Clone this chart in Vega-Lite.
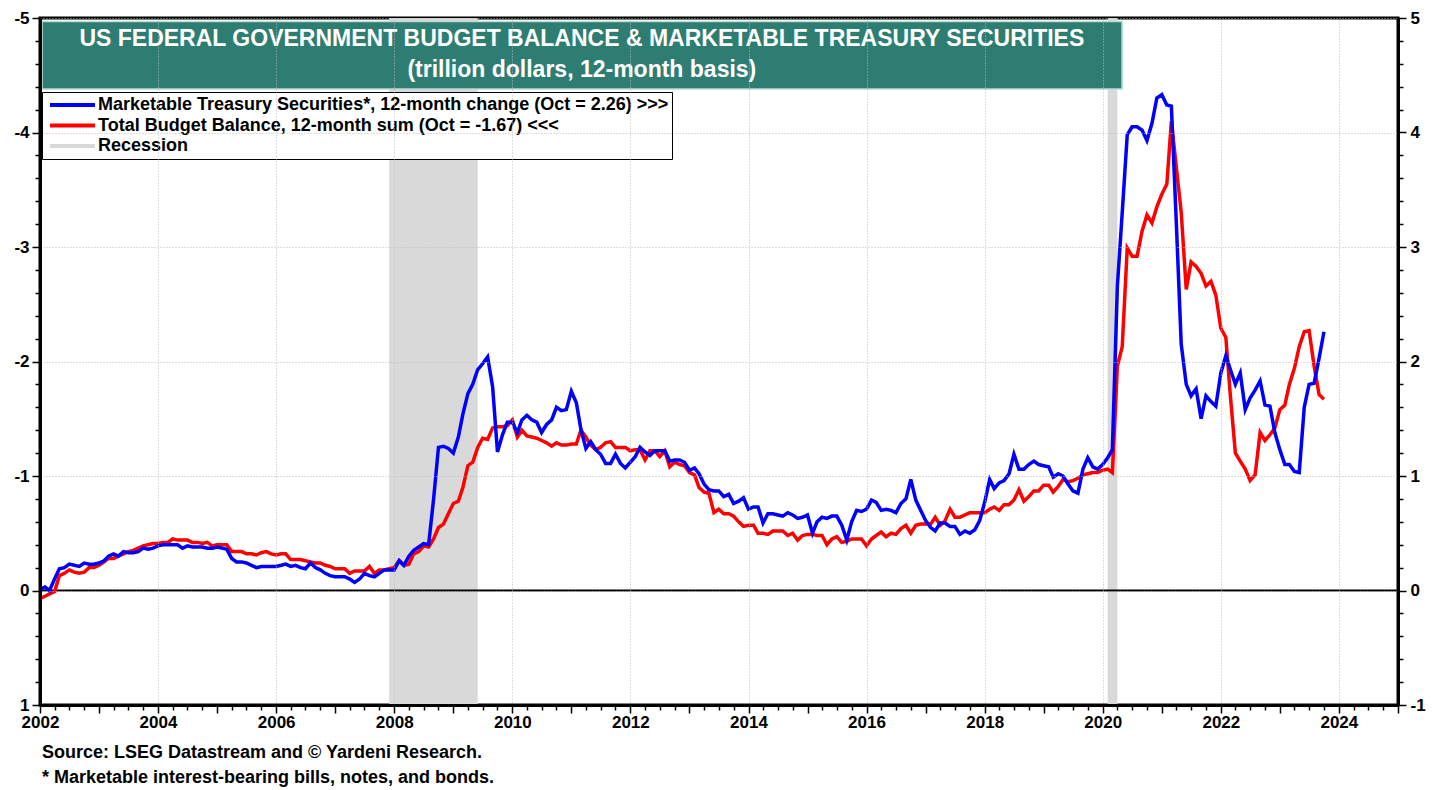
{
  "$schema": "https://vega.github.io/schema/vega-lite/v6.json",
  "width": 1358,
  "height": 687,
  "autosize": {"type": "none"},
  "padding": {"left": 40, "top": 18, "right": 50, "bottom": 85},
  "background": "white",
  "config": {
    "view": {"stroke": "black", "strokeWidth": 3},
    "font": "Liberation Sans"
  },
  "title": {
    "text": ["Source: LSEG Datastream and © Yardeni Research.", "* Marketable interest-bearing bills, notes, and bonds."],
    "orient": "bottom",
    "anchor": "start",
    "frame": "group",
    "font": "Liberation Sans",
    "fontSize": 18,
    "fontWeight": "bold",
    "color": "black",
    "lineHeight": 25,
    "offset": 14,
    "dx": 2
  },
  "datasets": {
    "series": [
      {"date":"2002-01-01","treasury":0.01,"budget":0.07},
      {"date":"2002-02-01","treasury":0.03,"budget":0.05},
      {"date":"2002-03-01","treasury":0.00,"budget":0.03},
      {"date":"2002-04-01","treasury":0.10,"budget":0.01},
      {"date":"2002-05-01","treasury":0.19,"budget":-0.13},
      {"date":"2002-06-01","treasury":0.20,"budget":-0.15},
      {"date":"2002-07-01","treasury":0.23,"budget":-0.18},
      {"date":"2002-08-01","treasury":0.22,"budget":-0.16},
      {"date":"2002-09-01","treasury":0.21,"budget":-0.15},
      {"date":"2002-10-01","treasury":0.24,"budget":-0.16},
      {"date":"2002-11-01","treasury":0.23,"budget":-0.20},
      {"date":"2002-12-01","treasury":0.23,"budget":-0.20},
      {"date":"2003-01-01","treasury":0.24,"budget":-0.22},
      {"date":"2003-02-01","treasury":0.26,"budget":-0.25},
      {"date":"2003-03-01","treasury":0.30,"budget":-0.28},
      {"date":"2003-04-01","treasury":0.32,"budget":-0.28},
      {"date":"2003-05-01","treasury":0.30,"budget":-0.30},
      {"date":"2003-06-01","treasury":0.34,"budget":-0.32},
      {"date":"2003-07-01","treasury":0.33,"budget":-0.34},
      {"date":"2003-08-01","treasury":0.33,"budget":-0.35},
      {"date":"2003-09-01","treasury":0.34,"budget":-0.37},
      {"date":"2003-10-01","treasury":0.37,"budget":-0.39},
      {"date":"2003-11-01","treasury":0.36,"budget":-0.40},
      {"date":"2003-12-01","treasury":0.37,"budget":-0.41},
      {"date":"2004-01-01","treasury":0.39,"budget":-0.41},
      {"date":"2004-02-01","treasury":0.40,"budget":-0.42},
      {"date":"2004-03-01","treasury":0.40,"budget":-0.42},
      {"date":"2004-04-01","treasury":0.40,"budget":-0.45},
      {"date":"2004-05-01","treasury":0.40,"budget":-0.44},
      {"date":"2004-06-01","treasury":0.37,"budget":-0.44},
      {"date":"2004-07-01","treasury":0.39,"budget":-0.44},
      {"date":"2004-08-01","treasury":0.38,"budget":-0.42},
      {"date":"2004-09-01","treasury":0.38,"budget":-0.42},
      {"date":"2004-10-01","treasury":0.38,"budget":-0.41},
      {"date":"2004-11-01","treasury":0.37,"budget":-0.42},
      {"date":"2004-12-01","treasury":0.37,"budget":-0.39},
      {"date":"2005-01-01","treasury":0.38,"budget":-0.40},
      {"date":"2005-02-01","treasury":0.37,"budget":-0.40},
      {"date":"2005-03-01","treasury":0.36,"budget":-0.40},
      {"date":"2005-04-01","treasury":0.28,"budget":-0.34},
      {"date":"2005-05-01","treasury":0.25,"budget":-0.34},
      {"date":"2005-06-01","treasury":0.25,"budget":-0.34},
      {"date":"2005-07-01","treasury":0.24,"budget":-0.32},
      {"date":"2005-08-01","treasury":0.22,"budget":-0.32},
      {"date":"2005-09-01","treasury":0.20,"budget":-0.31},
      {"date":"2005-10-01","treasury":0.21,"budget":-0.33},
      {"date":"2005-11-01","treasury":0.21,"budget":-0.34},
      {"date":"2005-12-01","treasury":0.21,"budget":-0.32},
      {"date":"2006-01-01","treasury":0.21,"budget":-0.31},
      {"date":"2006-02-01","treasury":0.22,"budget":-0.32},
      {"date":"2006-03-01","treasury":0.23,"budget":-0.32},
      {"date":"2006-04-01","treasury":0.21,"budget":-0.27},
      {"date":"2006-05-01","treasury":0.22,"budget":-0.27},
      {"date":"2006-06-01","treasury":0.20,"budget":-0.27},
      {"date":"2006-07-01","treasury":0.19,"budget":-0.26},
      {"date":"2006-08-01","treasury":0.24,"budget":-0.25},
      {"date":"2006-09-01","treasury":0.20,"budget":-0.24},
      {"date":"2006-10-01","treasury":0.18,"budget":-0.24},
      {"date":"2006-11-01","treasury":0.15,"budget":-0.22},
      {"date":"2006-12-01","treasury":0.13,"budget":-0.21},
      {"date":"2007-01-01","treasury":0.12,"budget":-0.19},
      {"date":"2007-02-01","treasury":0.12,"budget":-0.19},
      {"date":"2007-03-01","treasury":0.12,"budget":-0.19},
      {"date":"2007-04-01","treasury":0.10,"budget":-0.15},
      {"date":"2007-05-01","treasury":0.07,"budget":-0.17},
      {"date":"2007-06-01","treasury":0.10,"budget":-0.17},
      {"date":"2007-07-01","treasury":0.15,"budget":-0.17},
      {"date":"2007-08-01","treasury":0.13,"budget":-0.21},
      {"date":"2007-09-01","treasury":0.12,"budget":-0.15},
      {"date":"2007-10-01","treasury":0.15,"budget":-0.18},
      {"date":"2007-11-01","treasury":0.18,"budget":-0.18},
      {"date":"2007-12-01","treasury":0.18,"budget":-0.19},
      {"date":"2008-01-01","treasury":0.18,"budget":-0.20},
      {"date":"2008-02-01","treasury":0.26,"budget":-0.26},
      {"date":"2008-03-01","treasury":0.22,"budget":-0.22},
      {"date":"2008-04-01","treasury":0.30,"budget":-0.23},
      {"date":"2008-05-01","treasury":0.35,"budget":-0.32},
      {"date":"2008-06-01","treasury":0.38,"budget":-0.34},
      {"date":"2008-07-01","treasury":0.41,"budget":-0.39},
      {"date":"2008-08-01","treasury":0.40,"budget":-0.38},
      {"date":"2008-09-01","treasury":0.80,"budget":-0.45},
      {"date":"2008-10-01","treasury":1.25,"budget":-0.55},
      {"date":"2008-11-01","treasury":1.26,"budget":-0.58},
      {"date":"2008-12-01","treasury":1.24,"budget":-0.67},
      {"date":"2009-01-01","treasury":1.20,"budget":-0.76},
      {"date":"2009-02-01","treasury":1.34,"budget":-0.78},
      {"date":"2009-03-01","treasury":1.54,"budget":-0.90},
      {"date":"2009-04-01","treasury":1.72,"budget":-1.09},
      {"date":"2009-05-01","treasury":1.80,"budget":-1.12},
      {"date":"2009-06-01","treasury":1.93,"budget":-1.25},
      {"date":"2009-07-01","treasury":1.98,"budget":-1.33},
      {"date":"2009-08-01","treasury":2.04,"budget":-1.32},
      {"date":"2009-09-01","treasury":1.78,"budget":-1.42},
      {"date":"2009-10-01","treasury":1.21,"budget":-1.43},
      {"date":"2009-11-01","treasury":1.36,"budget":-1.43},
      {"date":"2009-12-01","treasury":1.47,"budget":-1.44},
      {"date":"2010-01-01","treasury":1.47,"budget":-1.49},
      {"date":"2010-02-01","treasury":1.38,"budget":-1.34},
      {"date":"2010-03-01","treasury":1.49,"budget":-1.40},
      {"date":"2010-04-01","treasury":1.53,"budget":-1.35},
      {"date":"2010-05-01","treasury":1.49,"budget":-1.34},
      {"date":"2010-06-01","treasury":1.47,"budget":-1.33},
      {"date":"2010-07-01","treasury":1.38,"budget":-1.31},
      {"date":"2010-08-01","treasury":1.45,"budget":-1.29},
      {"date":"2010-09-01","treasury":1.49,"budget":-1.26},
      {"date":"2010-10-01","treasury":1.60,"budget":-1.29},
      {"date":"2010-11-01","treasury":1.57,"budget":-1.27},
      {"date":"2010-12-01","treasury":1.58,"budget":-1.27},
      {"date":"2011-01-01","treasury":1.74,"budget":-1.28},
      {"date":"2011-02-01","treasury":1.64,"budget":-1.28},
      {"date":"2011-03-01","treasury":1.41,"budget":-1.40},
      {"date":"2011-04-01","treasury":1.24,"budget":-1.34},
      {"date":"2011-05-01","treasury":1.30,"budget":-1.27},
      {"date":"2011-06-01","treasury":1.23,"budget":-1.23},
      {"date":"2011-07-01","treasury":1.19,"budget":-1.25},
      {"date":"2011-08-01","treasury":1.11,"budget":-1.29},
      {"date":"2011-09-01","treasury":1.11,"budget":-1.30},
      {"date":"2011-10-01","treasury":1.19,"budget":-1.25},
      {"date":"2011-11-01","treasury":1.11,"budget":-1.25},
      {"date":"2011-12-01","treasury":1.07,"budget":-1.25},
      {"date":"2012-01-01","treasury":1.12,"budget":-1.22},
      {"date":"2012-02-01","treasury":1.17,"budget":-1.23},
      {"date":"2012-03-01","treasury":1.25,"budget":-1.23},
      {"date":"2012-04-01","treasury":1.21,"budget":-1.14},
      {"date":"2012-05-01","treasury":1.18,"budget":-1.22},
      {"date":"2012-06-01","treasury":1.22,"budget":-1.22},
      {"date":"2012-07-01","treasury":1.22,"budget":-1.17},
      {"date":"2012-08-01","treasury":1.22,"budget":-1.22},
      {"date":"2012-09-01","treasury":1.13,"budget":-1.08},
      {"date":"2012-10-01","treasury":1.14,"budget":-1.12},
      {"date":"2012-11-01","treasury":1.14,"budget":-1.10},
      {"date":"2012-12-01","treasury":1.12,"budget":-1.09},
      {"date":"2013-01-01","treasury":1.05,"budget":-1.03},
      {"date":"2013-02-01","treasury":1.07,"budget":-1.01},
      {"date":"2013-03-01","treasury":1.02,"budget":-0.90},
      {"date":"2013-04-01","treasury":0.93,"budget":-0.86},
      {"date":"2013-05-01","treasury":0.88,"budget":-0.85},
      {"date":"2013-06-01","treasury":0.87,"budget":-0.68},
      {"date":"2013-07-01","treasury":0.87,"budget":-0.71},
      {"date":"2013-08-01","treasury":0.82,"budget":-0.67},
      {"date":"2013-09-01","treasury":0.84,"budget":-0.67},
      {"date":"2013-10-01","treasury":0.76,"budget":-0.65},
      {"date":"2013-11-01","treasury":0.78,"budget":-0.60},
      {"date":"2013-12-01","treasury":0.81,"budget":-0.56},
      {"date":"2014-01-01","treasury":0.71,"budget":-0.57},
      {"date":"2014-02-01","treasury":0.73,"budget":-0.57},
      {"date":"2014-03-01","treasury":0.73,"budget":-0.50},
      {"date":"2014-04-01","treasury":0.59,"budget":-0.50},
      {"date":"2014-05-01","treasury":0.67,"budget":-0.49},
      {"date":"2014-06-01","treasury":0.67,"budget":-0.52},
      {"date":"2014-07-01","treasury":0.66,"budget":-0.52},
      {"date":"2014-08-01","treasury":0.65,"budget":-0.52},
      {"date":"2014-09-01","treasury":0.68,"budget":-0.48},
      {"date":"2014-10-01","treasury":0.66,"budget":-0.50},
      {"date":"2014-11-01","treasury":0.63,"budget":-0.44},
      {"date":"2014-12-01","treasury":0.64,"budget":-0.48},
      {"date":"2015-01-01","treasury":0.66,"budget":-0.49},
      {"date":"2015-02-01","treasury":0.50,"budget":-0.49},
      {"date":"2015-03-01","treasury":0.60,"budget":-0.48},
      {"date":"2015-04-01","treasury":0.64,"budget":-0.48},
      {"date":"2015-05-01","treasury":0.63,"budget":-0.40},
      {"date":"2015-06-01","treasury":0.65,"budget":-0.45},
      {"date":"2015-07-01","treasury":0.65,"budget":-0.47},
      {"date":"2015-08-01","treasury":0.57,"budget":-0.42},
      {"date":"2015-09-01","treasury":0.44,"budget":-0.43},
      {"date":"2015-10-01","treasury":0.60,"budget":-0.45},
      {"date":"2015-11-01","treasury":0.70,"budget":-0.45},
      {"date":"2015-12-01","treasury":0.69,"budget":-0.45},
      {"date":"2016-01-01","treasury":0.71,"budget":-0.39},
      {"date":"2016-02-01","treasury":0.79,"budget":-0.45},
      {"date":"2016-03-01","treasury":0.77,"budget":-0.48},
      {"date":"2016-04-01","treasury":0.70,"budget":-0.51},
      {"date":"2016-05-01","treasury":0.71,"budget":-0.47},
      {"date":"2016-06-01","treasury":0.70,"budget":-0.50},
      {"date":"2016-07-01","treasury":0.68,"budget":-0.49},
      {"date":"2016-08-01","treasury":0.76,"budget":-0.54},
      {"date":"2016-09-01","treasury":0.80,"budget":-0.57},
      {"date":"2016-10-01","treasury":0.97,"budget":-0.50},
      {"date":"2016-11-01","treasury":0.79,"budget":-0.57},
      {"date":"2016-12-01","treasury":0.70,"budget":-0.58},
      {"date":"2017-01-01","treasury":0.61,"budget":-0.58},
      {"date":"2017-02-01","treasury":0.55,"budget":-0.58},
      {"date":"2017-03-01","treasury":0.52,"budget":-0.64},
      {"date":"2017-04-01","treasury":0.59,"budget":-0.57},
      {"date":"2017-05-01","treasury":0.59,"budget":-0.61},
      {"date":"2017-06-01","treasury":0.56,"budget":-0.71},
      {"date":"2017-07-01","treasury":0.56,"budget":-0.64},
      {"date":"2017-08-01","treasury":0.49,"budget":-0.64},
      {"date":"2017-09-01","treasury":0.52,"budget":-0.66},
      {"date":"2017-10-01","treasury":0.50,"budget":-0.68},
      {"date":"2017-11-01","treasury":0.53,"budget":-0.68},
      {"date":"2017-12-01","treasury":0.61,"budget":-0.68},
      {"date":"2018-01-01","treasury":0.77,"budget":-0.68},
      {"date":"2018-02-01","treasury":0.97,"budget":-0.71},
      {"date":"2018-03-01","treasury":0.89,"budget":-0.73},
      {"date":"2018-04-01","treasury":0.94,"budget":-0.70},
      {"date":"2018-05-01","treasury":0.96,"budget":-0.75},
      {"date":"2018-06-01","treasury":1.02,"budget":-0.75},
      {"date":"2018-07-01","treasury":1.19,"budget":-0.79},
      {"date":"2018-08-01","treasury":1.06,"budget":-0.88},
      {"date":"2018-09-01","treasury":1.06,"budget":-0.78},
      {"date":"2018-10-01","treasury":1.10,"budget":-0.82},
      {"date":"2018-11-01","treasury":1.13,"budget":-0.87},
      {"date":"2018-12-01","treasury":1.10,"budget":-0.87},
      {"date":"2019-01-01","treasury":1.09,"budget":-0.92},
      {"date":"2019-02-01","treasury":1.08,"budget":-0.92},
      {"date":"2019-03-01","treasury":0.99,"budget":-0.86},
      {"date":"2019-04-01","treasury":1.02,"budget":-0.91},
      {"date":"2019-05-01","treasury":1.00,"budget":-0.97},
      {"date":"2019-06-01","treasury":0.93,"budget":-0.95},
      {"date":"2019-07-01","treasury":0.87,"budget":-0.96},
      {"date":"2019-08-01","treasury":0.85,"budget":-0.98},
      {"date":"2019-09-01","treasury":1.06,"budget":-1.01},
      {"date":"2019-10-01","treasury":1.16,"budget":-1.02},
      {"date":"2019-11-01","treasury":1.08,"budget":-1.03},
      {"date":"2019-12-01","treasury":1.06,"budget":-1.03},
      {"date":"2020-01-01","treasury":1.10,"budget":-1.05},
      {"date":"2020-02-01","treasury":1.16,"budget":-1.06},
      {"date":"2020-03-01","treasury":1.23,"budget":-1.03},
      {"date":"2020-04-01","treasury":2.66,"budget":-1.96},
      {"date":"2020-05-01","treasury":3.30,"budget":-2.13},
      {"date":"2020-06-01","treasury":3.98,"budget":-2.99},
      {"date":"2020-07-01","treasury":4.05,"budget":-2.92},
      {"date":"2020-08-01","treasury":4.05,"budget":-2.92},
      {"date":"2020-09-01","treasury":4.02,"budget":-3.14},
      {"date":"2020-10-01","treasury":3.93,"budget":-3.28},
      {"date":"2020-11-01","treasury":4.08,"budget":-3.21},
      {"date":"2020-12-01","treasury":4.30,"budget":-3.35},
      {"date":"2021-01-01","treasury":4.33,"budget":-3.46},
      {"date":"2021-02-01","treasury":4.24,"budget":-3.55},
      {"date":"2021-03-01","treasury":4.23,"budget":-4.10},
      {"date":"2021-04-01","treasury":3.20,"budget":-3.69},
      {"date":"2021-05-01","treasury":2.15,"budget":-3.30},
      {"date":"2021-06-01","treasury":1.80,"budget":-2.63},
      {"date":"2021-07-01","treasury":1.70,"budget":-2.87},
      {"date":"2021-08-01","treasury":1.76,"budget":-2.83},
      {"date":"2021-09-01","treasury":1.50,"budget":-2.77},
      {"date":"2021-10-01","treasury":1.70,"budget":-2.66},
      {"date":"2021-11-01","treasury":1.65,"budget":-2.70},
      {"date":"2021-12-01","treasury":1.61,"budget":-2.58},
      {"date":"2022-01-01","treasury":1.90,"budget":-2.29},
      {"date":"2022-02-01","treasury":2.05,"budget":-2.21},
      {"date":"2022-03-01","treasury":1.93,"budget":-1.70},
      {"date":"2022-04-01","treasury":1.80,"budget":-1.20},
      {"date":"2022-05-01","treasury":1.90,"budget":-1.13},
      {"date":"2022-06-01","treasury":1.58,"budget":-1.06},
      {"date":"2022-07-01","treasury":1.68,"budget":-0.96},
      {"date":"2022-08-01","treasury":1.75,"budget":-1.01},
      {"date":"2022-09-01","treasury":1.83,"budget":-1.38},
      {"date":"2022-10-01","treasury":1.62,"budget":-1.31},
      {"date":"2022-11-01","treasury":1.61,"budget":-1.36},
      {"date":"2022-12-01","treasury":1.38,"budget":-1.42},
      {"date":"2023-01-01","treasury":1.23,"budget":-1.58},
      {"date":"2023-02-01","treasury":1.10,"budget":-1.62},
      {"date":"2023-03-01","treasury":1.10,"budget":-1.80},
      {"date":"2023-04-01","treasury":1.04,"budget":-1.94},
      {"date":"2023-05-01","treasury":1.03,"budget":-2.13},
      {"date":"2023-06-01","treasury":1.60,"budget":-2.26},
      {"date":"2023-07-01","treasury":1.80,"budget":-2.27},
      {"date":"2023-08-01","treasury":1.81,"budget":-1.96},
      {"date":"2023-09-01","treasury":2.03,"budget":-1.71},
      {"date":"2023-10-01","treasury":2.26,"budget":-1.67}
    ],
    "recessions": [
      {"start":"2007-12-01","end":"2009-06-01"},
      {"start":"2020-02-01","end":"2020-04-01"}
    ]
  },
  "layer": [
    {
      "layer": [
        {
          "data": {"name": "recessions"},
          "mark": {"type": "rect", "opacity": 1},
          "encoding": {
            "x": {"field": "start", "type": "temporal"},
            "x2": {"field": "end"},
            "color": {
              "datum": "Recession",
              "scale": {
                "domain": ["Marketable Treasury Securities*, 12-month change (Oct = 2.26) >>>", "Total Budget Balance, 12-month sum (Oct = -1.67) <<<", "Recession"],
                "range": ["#0000ff", "#ff0000", "#d9d9d9"]
              },
              "legend": {
                "title": null,
                "orient": "none",
                "legendX": 2,
                "legendY": 74,
                "symbolType": "stroke",
                "symbolSize": 2025,
                "symbolStrokeWidth": 4,
                "clipHeight": 20,
                "rowPadding": 0.5,
                "padding": 3,
                "symbolOffset": 3,
                "labelOffset": 1,
                "labelFont": "Liberation Sans",
                "labelFontSize": 18,
                "labelFontWeight": "bold",
                "labelColor": "black",
                "labelLimit": 1000,
                "fillColor": "white",
                "strokeColor": "black",
                "encode": {
                  "symbols": {
                    "update": {
                      "strokeWidth": {"signal": "datum.value === 'Recession' ? 14 : 4"},
                      "stroke": {"scale": "color", "field": "value"},
                      "fill": {"value": "transparent"},
                      "opacity": {"value": 1}
                    }
                  },
                  "legend": {
                    "update": {
                      "stroke": {"value": "black"},
                      "strokeWidth": {"value": 2},
                      "fill": {"value": "white"}
                    }
                  }
                }
              }
            }
          }
        },
        {
          "data": {"values": [{}]},
          "mark": {"type": "rule", "color": "black", "strokeWidth": 2},
          "encoding": {
            "y": {"datum": 0, "type": "quantitative", "axis": null}
          }
        },
        {
          "data": {"name": "series"},
          "mark": {"type": "line", "strokeWidth": 3.5, "interpolate": "linear"},
          "encoding": {
            "x": {
              "field": "date",
              "type": "temporal",
              "scale": {"domain": [{"year": 2002, "month": 1, "date": 1}, {"year": 2025, "month": 1, "date": 1}], "nice": false},
              "axis": {
                "title": null,
                "orient": "bottom",
                "tickCount": {"interval": "month", "step": 3},
                "labelExpr": "month(datum.value) == 0 && year(datum.value) % 2 == 0 ? timeFormat(datum.value, '%Y') : ''",
                "labelOverlap": false,
                "labelFlush": false,
                "labelBound": false,
                "tickSize": {"condition": {"test": "month(datum.value) == 0", "value": 8}, "value": 5},
                "tickWidth": 1.5,
                "tickColor": "black",
                "grid": true,
                "gridOpacity": {"condition": {"test": "month(datum.value) == 0 && year(datum.value) % 2 == 0", "value": 1}, "value": 0},
                "gridDash": [1, 2],
                "gridColor": "#bdbdbd",
                "gridWidth": 1,
                "domainColor": "black",
                "domainWidth": 3,
                "labelFont": "Liberation Sans",
                "labelFontSize": 17,
                "labelFontWeight": "bold",
                "labelColor": "black",
                "labelPadding": 1,
                "zindex": 1
              }
            },
            "y": {
              "field": "budget",
              "type": "quantitative",
              "scale": {"domain": [-5, 1], "reverse": true, "nice": false, "zero": false},
              "axis": {
                "title": null,
                "orient": "left",
                "values": [-5, -4.8, -4.6, -4.4, -4.2, -4, -3.8, -3.6, -3.4, -3.2, -3, -2.8, -2.6, -2.4, -2.2, -2, -1.8, -1.6, -1.4, -1.2, -1, -0.8, -0.6, -0.4, -0.2, 0, 0.2, 0.4, 0.6, 0.8, 1],
                "labelExpr": "abs(datum.value - round(datum.value)) < 0.01 ? '' + round(datum.value) : ''",
                "labelOverlap": false,
                "labelFlush": false,
                "labelBound": false,
                "tickSize": {"condition": {"test": "abs(datum.value - round(datum.value)) < 0.01", "value": 8}, "value": 5},
                "tickWidth": 1.5,
                "tickColor": "black",
                "grid": true,
                "gridOpacity": {"condition": {"test": "abs(datum.value - round(datum.value)) < 0.01", "value": 1}, "value": 0},
                "gridDash": [1, 2],
                "gridColor": "#bdbdbd",
                "gridWidth": 1,
                "domainColor": "black",
                "domainWidth": 3,
                "labelFont": "Liberation Sans",
                "labelFontSize": 17,
                "labelFontWeight": "bold",
                "labelColor": "black",
                "labelPadding": 3,
                "zindex": 1
              }
            },
            "color": {"datum": "Total Budget Balance, 12-month sum (Oct = -1.67) <<<"}
          }
        },
        {
          "data": {"values": [{}]},
          "mark": {"type": "rect", "fill": "#2e7d72", "stroke": "#bcd9d3", "strokeWidth": 1.5},
          "encoding": {
            "x": {"datum": {"year": 2002, "month": 1, "date": 14}, "type": "temporal"},
            "x2": {"datum": {"year": 2020, "month": 4, "date": 30}},
            "y": {"datum": -4.97, "type": "quantitative", "axis": null},
            "y2": {"datum": -4.38}
          }
        },
        {
          "data": {"values": [{}]},
          "mark": {"type": "text", "text": "US FEDERAL GOVERNMENT BUDGET BALANCE & MARKETABLE TREASURY SECURITIES", "color": "white", "font": "Liberation Sans", "fontSize": 23, "fontWeight": "bold", "align": "center", "baseline": "middle"},
          "encoding": {
            "x": {"datum": {"year": 2011, "month": 3, "date": 7}, "type": "temporal"},
            "y": {"datum": -4.818, "type": "quantitative", "axis": null}
          }
        },
        {
          "data": {"values": [{}]},
          "mark": {"type": "text", "text": "(trillion dollars, 12-month basis)", "color": "white", "font": "Liberation Sans", "fontSize": 23, "fontWeight": "bold", "align": "center", "baseline": "middle"},
          "encoding": {
            "x": {"datum": {"year": 2011, "month": 3, "date": 7}, "type": "temporal"},
            "y": {"datum": -4.545, "type": "quantitative", "axis": null}
          }
        }
      ],
      "resolve": {"axis": {"y": "independent"}}
    },
    {
      "data": {"name": "series"},
      "mark": {"type": "line", "strokeWidth": 3.5, "interpolate": "linear"},
      "encoding": {
        "x": {"field": "date", "type": "temporal"},
        "y": {
          "field": "treasury",
          "type": "quantitative",
          "scale": {"domain": [-1, 5], "nice": false, "zero": false},
          "axis": {
            "title": null,
            "orient": "right",
            "values": [-1, -0.8, -0.6, -0.4, -0.2, 0, 0.2, 0.4, 0.6, 0.8, 1, 1.2, 1.4, 1.6, 1.8, 2, 2.2, 2.4, 2.6, 2.8, 3, 3.2, 3.4, 3.6, 3.8, 4, 4.2, 4.4, 4.6, 4.8, 5],
            "labelExpr": "abs(datum.value - round(datum.value)) < 0.01 ? '' + round(datum.value) : ''",
            "labelOverlap": false,
            "labelFlush": false,
            "labelBound": false,
            "tickSize": {"condition": {"test": "abs(datum.value - round(datum.value)) < 0.01", "value": 8}, "value": 5},
            "tickWidth": 1.5,
            "tickColor": "black",
            "grid": false,
            "domainColor": "black",
            "domainWidth": 3,
            "labelFont": "Liberation Sans",
            "labelFontSize": 17,
            "labelFontWeight": "bold",
            "labelColor": "black",
            "labelPadding": 4,
            "zindex": 1
          }
        },
        "color": {"datum": "Marketable Treasury Securities*, 12-month change (Oct = 2.26) >>>"}
      }
    }
  ],
  "resolve": {"scale": {"y": "independent"}}
}
